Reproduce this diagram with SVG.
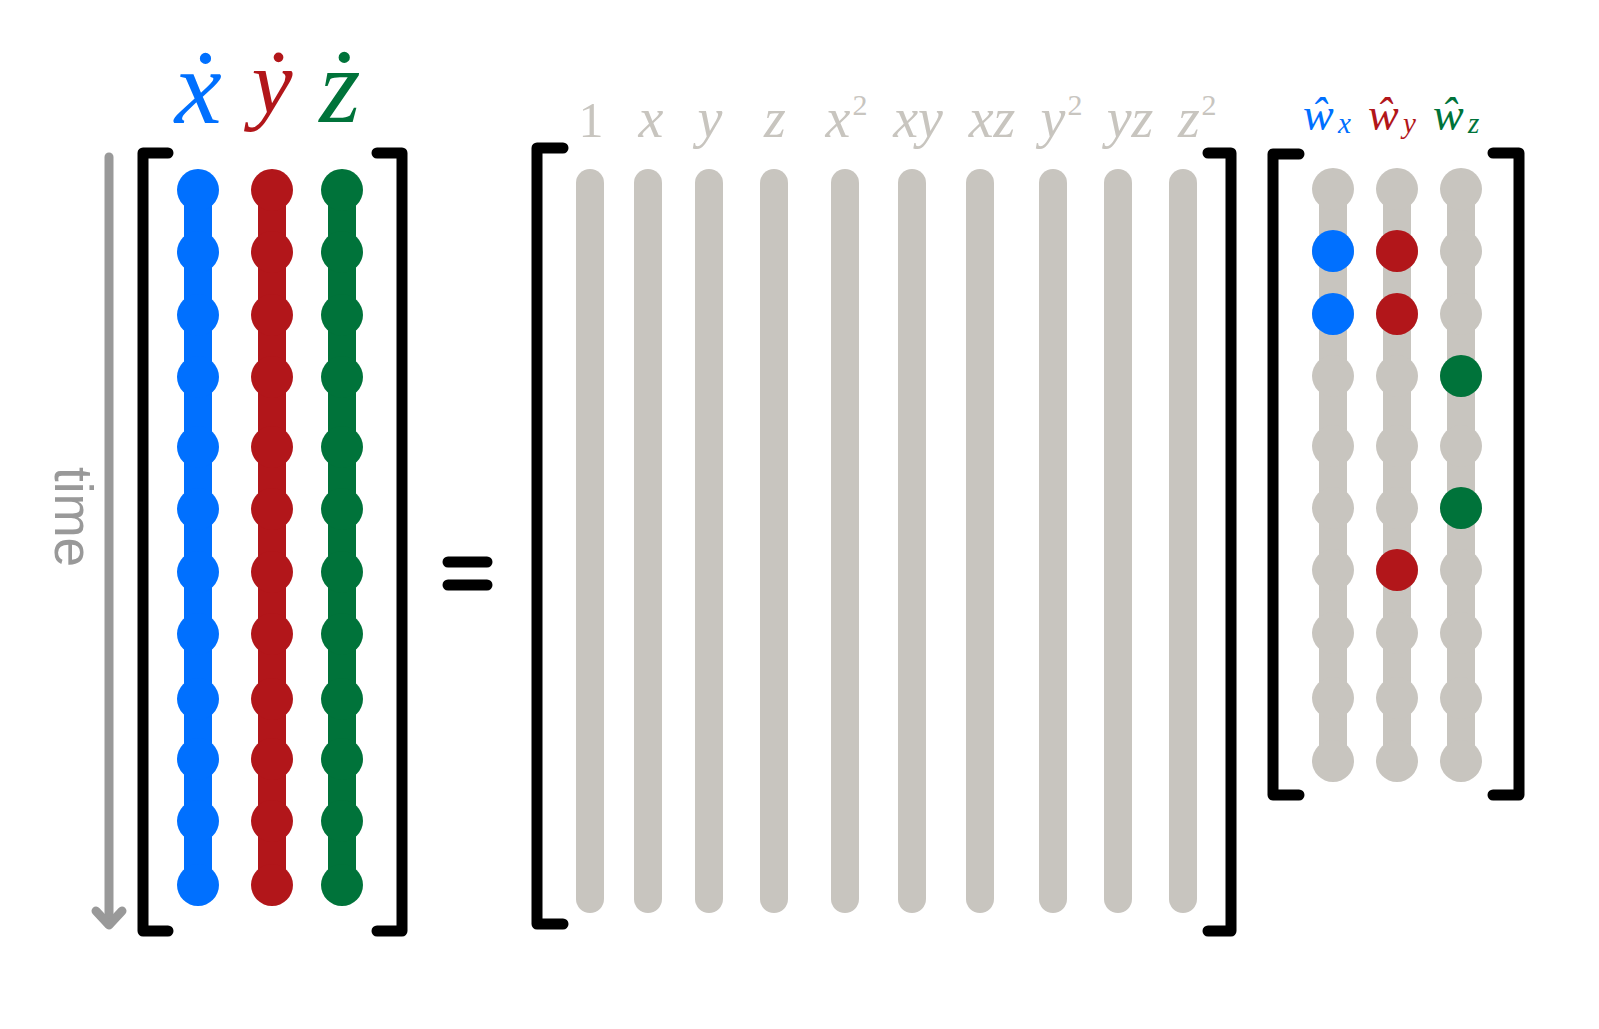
<svg xmlns="http://www.w3.org/2000/svg" width="1599" height="1029" viewBox="0 0 1599 1029">
<style>
.br{fill:none;stroke:#000;stroke-width:11;stroke-linecap:round;stroke-linejoin:round}
.m{font-family:"Liberation Serif","DejaVu Serif",serif;font-style:italic}
.up{font-style:normal}
.gl{fill:#C8C5BF}
.gbar{stroke:#C8C5BF;stroke-width:28;stroke-linecap:round}
.blue{fill:#0070FF}
.red{fill:#B2161A}
.green{fill:#00733A}
</style>
<rect width="1599" height="1029" fill="#fff"/>

<g id="time-axis">
<line x1="109" y1="157" x2="109" y2="924" stroke="#999" stroke-width="9" stroke-linecap="round"/>
<polyline points="96,911 109,925 122,911" fill="none" stroke="#999" stroke-width="9" stroke-linecap="round" stroke-linejoin="round"/>
<text transform="translate(55,517) rotate(90)" text-anchor="middle" font-family="Liberation Sans, Arial, sans-serif" font-size="53" fill="#999">time</text>
</g>

<g id="left-labels">
<text class="m blue" x="198" y="123" font-size="106" text-anchor="middle">ẋ</text>
<text class="m red" x="272" y="113" font-size="92" text-anchor="middle">ẏ</text>
<text class="m green" x="340" y="122" font-size="106" text-anchor="middle">ż</text>
</g>

<g id="left-matrix">
<path class="br" d="M168,153 H143 V931 H168"/>
<path class="br" d="M377,153 H402 V931 H377"/>
<g id="col-xdot" class="blue">
<line x1="198" y1="190" x2="198" y2="885" stroke="#0070FF" stroke-width="28"/>
<circle cx="198" cy="190" r="21"/><circle cx="198" cy="252" r="21"/><circle cx="198" cy="315" r="21"/><circle cx="198" cy="377" r="21"/><circle cx="198" cy="447" r="21"/><circle cx="198" cy="509" r="21"/><circle cx="198" cy="572" r="21"/><circle cx="198" cy="634" r="21"/><circle cx="198" cy="699" r="21"/><circle cx="198" cy="759" r="21"/><circle cx="198" cy="821" r="21"/><circle cx="198" cy="885" r="21"/>
</g>
<g id="col-ydot" class="red">
<line x1="272" y1="190" x2="272" y2="885" stroke="#B2161A" stroke-width="28"/>
<circle cx="272" cy="190" r="21"/><circle cx="272" cy="252" r="21"/><circle cx="272" cy="315" r="21"/><circle cx="272" cy="377" r="21"/><circle cx="272" cy="447" r="21"/><circle cx="272" cy="509" r="21"/><circle cx="272" cy="572" r="21"/><circle cx="272" cy="634" r="21"/><circle cx="272" cy="699" r="21"/><circle cx="272" cy="759" r="21"/><circle cx="272" cy="821" r="21"/><circle cx="272" cy="885" r="21"/>
</g>
<g id="col-zdot" class="green">
<line x1="342" y1="190" x2="342" y2="885" stroke="#00733A" stroke-width="28"/>
<circle cx="342" cy="190" r="21"/><circle cx="342" cy="252" r="21"/><circle cx="342" cy="315" r="21"/><circle cx="342" cy="377" r="21"/><circle cx="342" cy="447" r="21"/><circle cx="342" cy="509" r="21"/><circle cx="342" cy="572" r="21"/><circle cx="342" cy="634" r="21"/><circle cx="342" cy="699" r="21"/><circle cx="342" cy="759" r="21"/><circle cx="342" cy="821" r="21"/><circle cx="342" cy="885" r="21"/>
</g>
</g>

<g id="equals">
<line x1="448" y1="562" x2="487" y2="562" stroke="#000" stroke-width="11" stroke-linecap="round"/>
<line x1="448" y1="585" x2="487" y2="585" stroke="#000" stroke-width="11" stroke-linecap="round"/>
</g>

<g id="library-labels" class="m gl" font-size="56" text-anchor="middle">
<text class="up" x="591" y="137" font-size="50">1</text>
<text x="651" y="137">x</text>
<text x="710" y="137">y</text>
<text x="775" y="137">z</text>
<text x="838" y="137">x</text><text class="up" x="860" y="115" font-size="30">2</text>
<text x="918" y="137">xy</text>
<text x="992" y="137">xz</text>
<text x="1053" y="137">y</text><text class="up" x="1075" y="115" font-size="30">2</text>
<text x="1130" y="137">yz</text>
<text x="1189" y="137">z</text><text class="up" x="1209" y="115" font-size="30">2</text>
</g>

<g id="library-matrix">
<path class="br" d="M563,148 H537 V924 H563"/>
<path class="br" d="M1208,153 H1231 V931 H1208"/>
<line class="gbar" x1="590" y1="183" x2="590" y2="899"/>
<line class="gbar" x1="648" y1="183" x2="648" y2="899"/>
<line class="gbar" x1="709" y1="183" x2="709" y2="899"/>
<line class="gbar" x1="774" y1="183" x2="774" y2="899"/>
<line class="gbar" x1="845" y1="183" x2="845" y2="899"/>
<line class="gbar" x1="912" y1="183" x2="912" y2="899"/>
<line class="gbar" x1="980" y1="183" x2="980" y2="899"/>
<line class="gbar" x1="1053" y1="183" x2="1053" y2="899"/>
<line class="gbar" x1="1118" y1="183" x2="1118" y2="899"/>
<line class="gbar" x1="1183" y1="183" x2="1183" y2="899"/>
</g>

<g id="right-labels" class="m" text-anchor="start">
<text class="blue" x="1303" y="130" font-size="46">ŵ</text><text class="blue" x="1338" y="133" font-size="29">x</text>
<text class="red" x="1368" y="130" font-size="46">ŵ</text><text class="red" x="1403" y="133" font-size="29">y</text>
<text class="green" x="1433" y="130" font-size="46">ŵ</text><text class="green" x="1468" y="133" font-size="29">z</text>
</g>

<g id="coef-matrix">
<path class="br" d="M1299,154 H1273 V795 H1299"/>
<path class="br" d="M1493,153 H1519 V795 H1493"/>
<g id="col-wx" class="gl">
<line x1="1333" y1="189" x2="1333" y2="761" stroke="#C8C5BF" stroke-width="28"/>
<circle cx="1333" cy="189" r="21"/><circle cx="1333" cy="251" r="21"/><circle cx="1333" cy="314" r="21"/><circle cx="1333" cy="376" r="21"/><circle cx="1333" cy="446" r="21"/><circle cx="1333" cy="508" r="21"/><circle cx="1333" cy="570" r="21"/><circle cx="1333" cy="633" r="21"/><circle cx="1333" cy="698" r="21"/><circle cx="1333" cy="761" r="21"/>
<circle class="blue" cx="1333" cy="251" r="21"/><circle class="blue" cx="1333" cy="314" r="21"/>
</g>
<g id="col-wy" class="gl">
<line x1="1397" y1="189" x2="1397" y2="761" stroke="#C8C5BF" stroke-width="28"/>
<circle cx="1397" cy="189" r="21"/><circle cx="1397" cy="251" r="21"/><circle cx="1397" cy="314" r="21"/><circle cx="1397" cy="376" r="21"/><circle cx="1397" cy="446" r="21"/><circle cx="1397" cy="508" r="21"/><circle cx="1397" cy="570" r="21"/><circle cx="1397" cy="633" r="21"/><circle cx="1397" cy="698" r="21"/><circle cx="1397" cy="761" r="21"/>
<circle class="red" cx="1397" cy="251" r="21"/><circle class="red" cx="1397" cy="314" r="21"/><circle class="red" cx="1397" cy="570" r="21"/>
</g>
<g id="col-wz" class="gl">
<line x1="1461" y1="189" x2="1461" y2="761" stroke="#C8C5BF" stroke-width="28"/>
<circle cx="1461" cy="189" r="21"/><circle cx="1461" cy="251" r="21"/><circle cx="1461" cy="314" r="21"/><circle cx="1461" cy="376" r="21"/><circle cx="1461" cy="446" r="21"/><circle cx="1461" cy="508" r="21"/><circle cx="1461" cy="570" r="21"/><circle cx="1461" cy="633" r="21"/><circle cx="1461" cy="698" r="21"/><circle cx="1461" cy="761" r="21"/>
<circle class="green" cx="1461" cy="376" r="21"/><circle class="green" cx="1461" cy="508" r="21"/>
</g>
</g>
</svg>
